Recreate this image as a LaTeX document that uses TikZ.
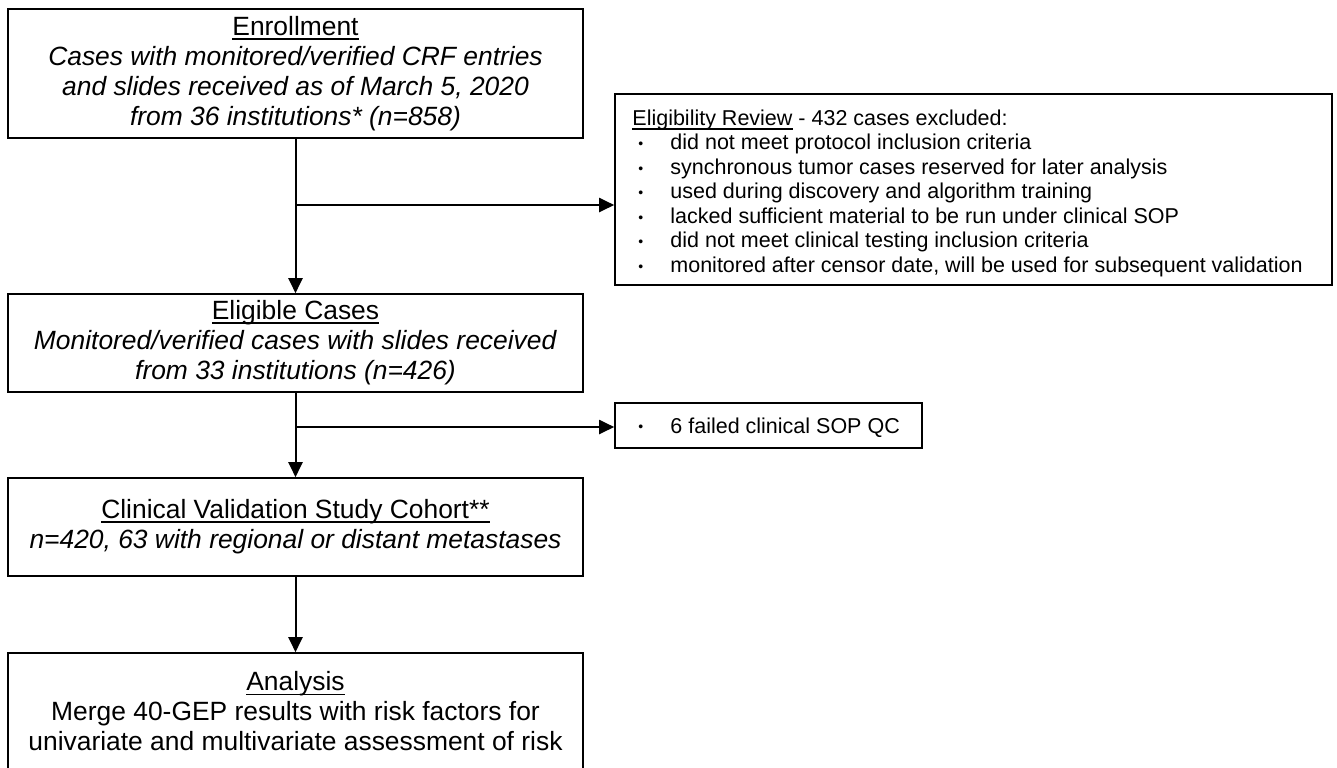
\documentclass[tikz,border=0pt]{standalone}
\usepackage{fontspec}
\setmainfont{Liberation Sans}
\usetikzlibrary{arrows.meta}
\newsavebox\ulbox
\newcommand\myul[1]{\sbox\ulbox{#1}\rlap{\rule[-2.1pt]{\wd\ulbox}{0.8pt}}\usebox\ulbox}
\newcommand\bul{\hspace*{3pt}\makebox[16pt][l]{\fontsize{7}{7}\selectfont\raisebox{0.6pt}{•}}}
\tikzset{
  mainbox/.style={draw, line width=0.8pt, inner sep=0pt, align=center,
    minimum width=287.5pt, font=\fontsize{13.2}{15}\selectfont},
  sidebox/.style={draw, line width=0.8pt, inner sep=0pt},
  listtext/.style={inner sep=0pt, align=left, font=\fontsize{10.75}{12.25}\selectfont},
  flow/.style={line width=1pt, -{Triangle[length=7.5pt,width=7pt]}}
}
\begin{document}
\begin{tikzpicture}[x=0.5pt,y=-0.5pt]
\useasboundingbox (0,0) rectangle (1337,767);
\node[mainbox, minimum height=64.5pt] (enroll) at (295.5,73.5)
  {\myul{Enrollment}\\
   \textit{Cases with monitored/verified CRF entries}\\
   \textit{and slides received as of March 5, 2020}\\
   \textit{from 36 institutions* (n=858)}};
\node[sidebox, minimum width=358.5pt, minimum height=95.5pt] (review) at (973.5,189.5) {};
\node[listtext, anchor=north west] (reviewtext) at (632,109.5)
  {\myul{Eligibility Review} - 432 cases excluded:\\
   \bul did not meet protocol inclusion criteria\\
   \bul synchronous tumor cases reserved for later analysis\\
   \bul used during discovery and algorithm training\\
   \bul lacked sufficient material to be run under clinical SOP\\
   \bul did not meet clinical testing inclusion criteria\\
   \bul monitored after censor date, will be used for subsequent validation};
\node[mainbox, minimum height=49pt] (elig) at (295.5,343)
  {\myul{Eligible Cases}\\
   \textit{Monitored/verified cases with slides received}\\
   \textit{from 33 institutions (n=426)}};
\node[sidebox, minimum width=153.5pt, minimum height=22.5pt] (fail) at (768.5,425.5) {};
\node[listtext, anchor=base west] (failtext) at (632,433) {\bul 6 failed clinical SOP QC};
\node[mainbox, minimum height=49pt] (cohort) at (295.5,527)
  {\myul{Clinical Validation Study Cohort**}\\
   \textit{n=420, 63 with regional or distant metastases}};
\node[mainbox, minimum height=58.5pt] (anal) at (295.5,711.5)
  {\myul{Analysis}\\
   Merge 40-GEP results with risk factors for\\
   univariate and multivariate assessment of risk};
\coordinate (b1) at (295.5,205);
\coordinate (b2) at (295.5,427);
\draw[flow] (enroll.south) -- (elig.north);
\draw[flow] (b1) -- (b1 -| review.west);
\draw[flow] (elig.south) -- (cohort.north);
\draw[flow] (b2) -- (b2 -| fail.west);
\draw[flow] (cohort.south) -- (anal.north);
\end{tikzpicture}
\end{document}
